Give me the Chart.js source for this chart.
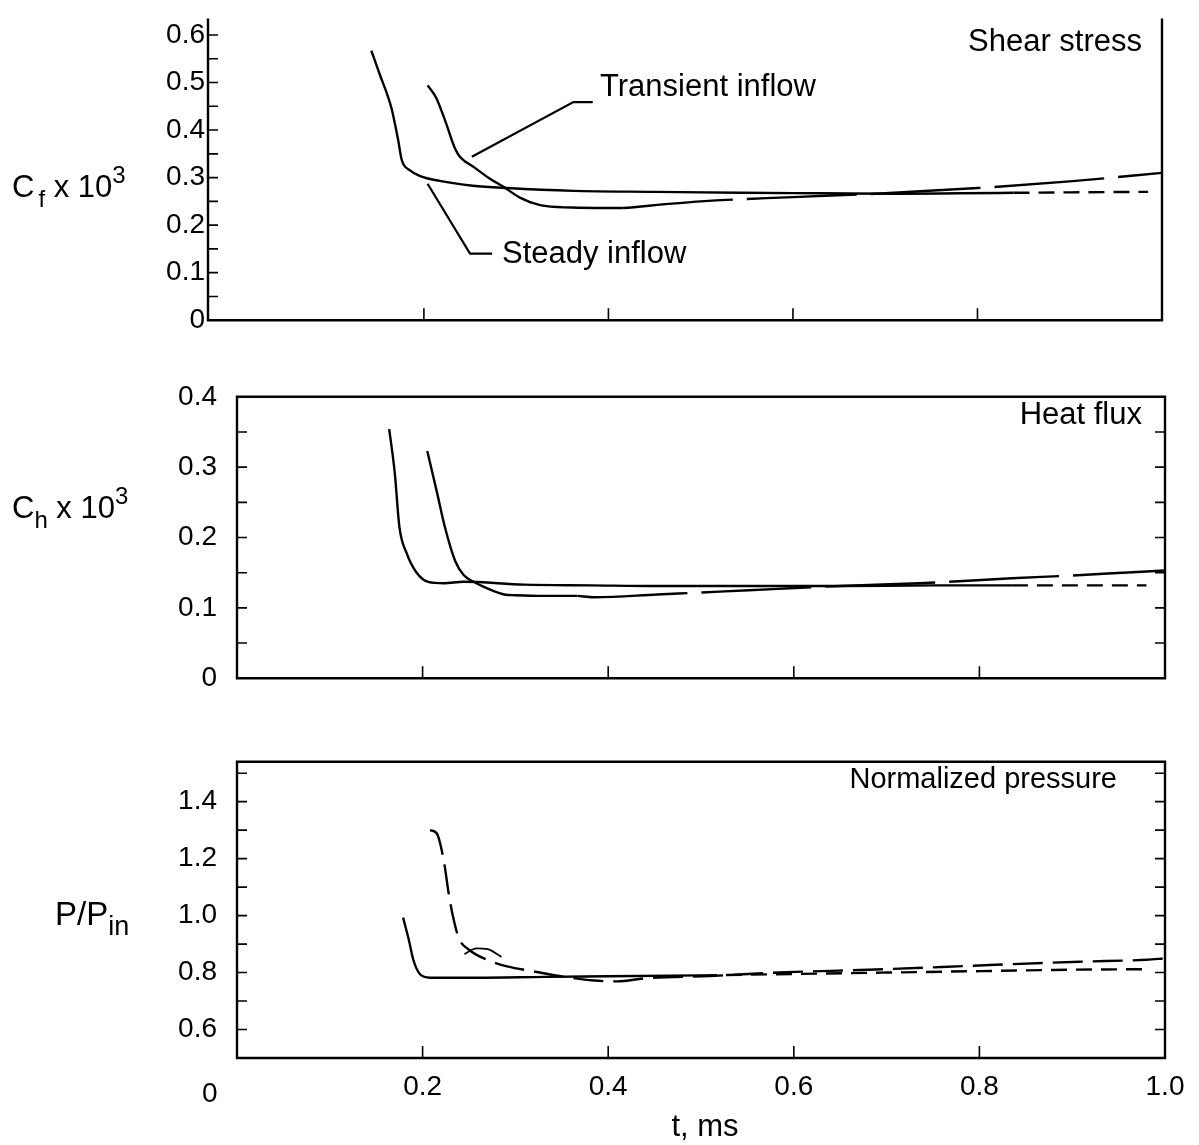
<!DOCTYPE html>
<html><head><meta charset="utf-8">
<script src="https://cdn.jsdelivr.net/npm/chart.js@4/dist/chart.umd.min.js"></script>
<style>
body{margin:0;background:#fff;width:1199px;height:1145px;position:relative;overflow:hidden;font-family:'Liberation Sans',Arial,sans-serif;color:#000}
canvas{position:absolute;left:0}
.t{position:absolute;font-size:31px;line-height:31px;white-space:nowrap}
.sub{font-size:24px;position:relative;top:10px}
.sup{font-size:24px;position:relative;top:-14px}
</style></head><body>
<canvas id="c1" width="1199" height="340" style="top:0px"></canvas>
<canvas id="c2" width="1199" height="355" style="top:360px"></canvas>
<canvas id="c3" width="1199" height="420" style="top:725px"></canvas>

<div class="t" style="left:12px;top:171px">C<span class="sub" style="margin-left:4px">f</span> x 10<span class="sup">3</span></div>
<div class="t" style="left:12px;top:492px">C<span class="sub">h</span> x 10<span class="sup">3</span></div>
<div class="t" style="left:55px;top:897px;font-size:33px;line-height:33px">P/P<span class="sub" style="font-size:27px">in</span></div>
<div class="t" style="right:57px;top:25px">Shear stress</div>
<div class="t" style="left:600px;top:70px">Transient inflow</div>
<div class="t" style="left:502px;top:237px">Steady inflow</div>
<div class="t" style="right:57px;top:398px">Heat flux</div>
<div class="t" style="right:82px;top:764px;font-size:29px;line-height:29px">Normalized pressure</div>
<div class="t" style="left:202px;top:1079px;font-size:28px;line-height:28px">0</div>
<div class="t" style="left:705px;top:1110px;transform:translateX(-50%)">t, ms</div>

<script>
// ---------- Panel 1: shear stress Cf x 10^3 ----------
const cfSteadySolidT = [0.143,0.152,0.165,0.172,0.176,0.185,0.196,0.217,0.253,0.290,0.362,0.45,0.543,0.63,0.716,0.78,0.839];
const cfSteadySolidV = [0.567,0.518,0.445,0.38,0.337,0.315,0.303,0.293,0.283,0.278,0.272,0.27,0.268,0.267,0.266,0.267,0.268];
const cfSteadyDashT = [0.839,0.9,0.985];
const cfSteadyDashV = [0.268,0.269,0.27];
const cfTransSolidT = [0.204,0.213,0.223,0.234,0.239,0.255,0.272,0.286,0.304,0.326,0.36,0.398,0.416];
const cfTransSolidV = [0.494,0.469,0.42,0.36,0.344,0.321,0.297,0.281,0.258,0.242,0.237,0.236,0.236];
const cfTransDashT = [0.416,0.5,0.6,0.7,0.8,0.9,1.0];
const cfTransDashV = [0.236,0.25,0.259,0.267,0.278,0.292,0.31];
const cfTickLabels = [0,0.1,0.2,0.3,0.4,0.5,0.6];
const cfMinorTicks = [0.05,0.1,0.15,0.2,0.25,0.3,0.35,0.4,0.45,0.5,0.55,0.6];

// ---------- Panel 2: heat flux Ch x 10^3 ----------
const chSteadySolidT = [0.164,0.17,0.175,0.183,0.193,0.206,0.223,0.244,0.309,0.381,0.453,0.55,0.65,0.75,0.835];
const chSteadySolidV = [0.354,0.292,0.215,0.177,0.151,0.137,0.135,0.137,0.133,0.132,0.131,0.131,0.131,0.132,0.132];
const chSteadyDashT = [0.835,0.9,0.98];
const chSteadyDashV = [0.132,0.132,0.132];
const chTransSolidT = [0.205,0.215,0.224,0.235,0.244,0.255,0.269,0.288,0.30,0.33,0.367];
const chTransSolidV = [0.323,0.267,0.215,0.167,0.147,0.137,0.128,0.119,0.118,0.117,0.117];
const chTransDashT = [0.367,0.386,0.453,0.52,0.583,0.65,0.735,0.835,0.9,0.97,1.0];
const chTransDashV = [0.117,0.115,0.119,0.123,0.127,0.131,0.135,0.142,0.146,0.151,0.153];
const chTickLabels = [0,0.1,0.2,0.3,0.4];
const chMinorTicks = [0.05,0.1,0.15,0.2,0.25,0.3,0.35];

// ---------- Panel 3: normalized pressure P/Pin ----------
const pSteadySolidT = [0.179,0.185,0.19,0.197,0.208,0.258,0.331,0.4,0.5];
const pSteadySolidV = [0.993,0.917,0.845,0.795,0.782,0.782,0.785,0.787,0.79];
const pSteadyDashT = [0.5,0.6,0.7,0.8,0.9,0.984];
const pSteadyDashV = [0.79,0.795,0.8,0.805,0.81,0.812];
const pTransT = [0.208,0.215,0.223,0.228,0.233,0.239,0.25,0.275,0.291,0.323,0.353,0.385,0.41,0.44,0.51,0.583,0.7,0.8,0.908,0.98,1.0];
const pTransV = [1.30,1.29,1.19,1.08,0.993,0.921,0.88,0.838,0.822,0.802,0.785,0.772,0.769,0.78,0.788,0.80,0.812,0.825,0.838,0.845,0.85];
const pHumpT = [0.245,0.258,0.27,0.285];
const pHumpV = [0.865,0.885,0.882,0.855];
const pTickLabels = [0.6,0.8,1.0,1.2,1.4];
const pMinorTicks = [0.6,0.7,0.8,0.9,1.0,1.1,1.2,1.3,1.4,1.5];

// ---------- x axis ----------
const tTickMarks = [0.2,0.4,0.6,0.8];
const tTickLabels = [0.2,0.4,0.6,0.8,1.0];

const FONT = "'Liberation Sans', Arial, sans-serif";
const pts = (T,V) => T.map((t,i)=>({x:t,y:V[i]}));
const ds = (T,V,dash,w) => ({data:pts(T,V),borderColor:'#000',borderWidth:w||2.4,borderDash:dash||[],pointRadius:0,
  cubicInterpolationMode:'monotone',fill:false});

const framePlugin = {
  id:'frame',
  afterDatasetsDraw(chart, args, o){
    const {ctx, chartArea:a, scales:{x,y}} = chart;
    ctx.save(); ctx.strokeStyle='#000'; ctx.lineWidth=2.4; ctx.lineCap='square';
    ctx.beginPath();
    if(o.top){ctx.moveTo(a.left,a.top);ctx.lineTo(a.right,a.top);}
    ctx.moveTo(a.left,a.top);ctx.lineTo(a.left,a.bottom);ctx.lineTo(a.right,a.bottom);ctx.lineTo(a.right,a.top);
    ctx.stroke();
    ctx.lineWidth=1.6; ctx.lineCap='butt';
    ctx.beginPath();
    tTickMarks.forEach(v=>{const p=x.getPixelForValue(v);ctx.moveTo(p,a.bottom);ctx.lineTo(p,a.bottom-12);});
    (o.yTicks||[]).forEach(v=>{const p=y.getPixelForValue(v);ctx.moveTo(a.left,p);ctx.lineTo(a.left+10,p);
      if(o.right){ctx.moveTo(a.right,p);ctx.lineTo(a.right-10,p);}});
    ctx.stroke();
    ctx.lineWidth=2.2;
    (o.leaders||[]).forEach(L=>{ctx.beginPath();L.forEach((pt,i)=>{const px=x.getPixelForValue(pt[0]),py=y.getPixelForValue(pt[1]);
      if(i)ctx.lineTo(px,py);else ctx.moveTo(px,py);});ctx.stroke();});
    ctx.restore();
  }
};

function makeChart(id, cfg){
  const yTicksArr = cfg.yLabels;
  return new Chart(document.getElementById(id), {
    type:'line',
    data:{datasets:cfg.datasets},
    plugins:[framePlugin],
    options:{
      responsive:false, animation:false, devicePixelRatio:1,
      layout:{padding:{left:0,right:cfg.padRight,top:cfg.padTop,bottom:0}},
      plugins:{legend:{display:false},tooltip:{enabled:false},
        frame:{top:cfg.top,right:cfg.right,yTicks:cfg.minor,leaders:cfg.leaders||[]}},
      scales:{
        x:{type:'linear',min:cfg.xmin,max:1.0,
          grid:{display:false,drawTicks:false},border:{display:false},
          afterBuildTicks:s=>{s.ticks=tTickLabels.map(v=>({value:v}));},
          afterFit:s=>{s.height=cfg.xh;},
          ticks:{display:!!cfg.xLabels,padding:12,color:'#000',font:{family:FONT,size:28},
            callback:v=>Number(v).toFixed(1),maxRotation:0,autoSkip:false}},
        y:{type:'linear',min:cfg.ymin,max:cfg.ymax,
          grid:{display:false,drawTicks:false},border:{display:false},
          afterBuildTicks:s=>{s.ticks=yTicksArr.map(v=>({value:v}));},
          afterFit:s=>{s.width=cfg.yw;},
          ticks:{padding:cfg.ypad,color:'#000',font:{family:FONT,size:28},autoSkip:false,
            callback:v=>v===0?'0':Number(v).toFixed(1)}}
      }
    }
  });
}

const LONG=[110,14], SHORT=[16,9], MED=[30,10];

makeChart('c1',{
  datasets:[ds(cfSteadySolidT,cfSteadySolidV),ds(cfSteadyDashT,cfSteadyDashV,SHORT),
            ds(cfTransSolidT,cfTransSolidV),ds(cfTransDashT,cfTransDashV,LONG)],
  xmin:-0.034, ymin:0, ymax:0.632, yLabels:cfTickLabels, minor:cfMinorTicks,
  padTop:2, padRight:37, xh:17, yw:208, ypad:3, top:false, right:false,
  leaders:[[[0.252,0.344],[0.362,0.459],[0.383,0.459]],[[0.204,0.287],[0.25,0.14],[0.274,0.14]]]
});
makeChart('c2',{
  datasets:[ds(chSteadySolidT,chSteadySolidV),ds(chSteadyDashT,chSteadyDashV,SHORT),
            ds(chTransSolidT,chTransSolidV),ds(chTransDashT,chTransDashV,LONG)],
  xmin:0, ymin:0, ymax:0.4, yLabels:chTickLabels, minor:chMinorTicks,
  padTop:23, padRight:34, xh:20, yw:237, ypad:20, top:true, right:true
});
makeChart('c3',{
  datasets:[ds(pSteadySolidT,pSteadySolidV),ds(pSteadyDashT,pSteadyDashV,SHORT),
            ds(pTransT,pTransV,MED),ds(pHumpT,pHumpV,[],1.8)],
  xmin:0, ymin:0.5, ymax:1.54, yLabels:pTickLabels, minor:pMinorTicks,
  padTop:20, padRight:34, xh:87, yw:237, ypad:20, top:true, right:true, xLabels:true
});
</script>
</body></html>
